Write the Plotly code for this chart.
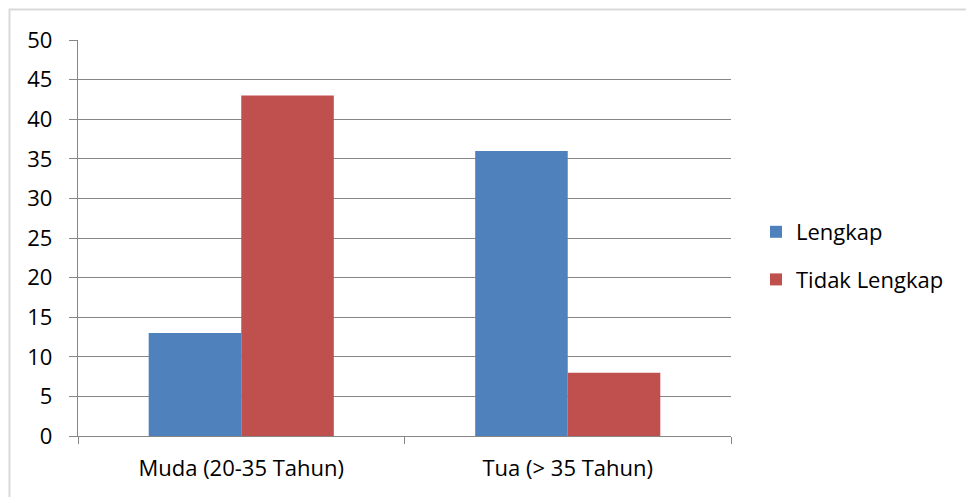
import plotly.graph_objects as go

categories = ["Muda (20-35 Tahun)", "Tua (> 35 Tahun)"]
lengkap = [13, 36]
tidak_lengkap = [43, 8]
y_ticks = [0, 5, 10, 15, 20, 25, 30, 35, 40, 45, 50]

W, H = 966, 497
L, R, T, B = 78, 235, 40, 61
pw, ph = W - L - R, H - T - B

def px_x(px):
    return (px - L) / pw

def px_y(py):
    return (H - B - py) / ph

font_family = "Open Sans, Noto Sans, sans-serif"
fs = 22

fig = go.Figure()
fig.add_trace(go.Bar(name="Lengkap", x=categories, y=lengkap, legendgroup="a",
                     marker=dict(color="#4F81BD", line=dict(width=0))))
fig.add_trace(go.Bar(name="Tidak Lengkap", x=categories, y=tidak_lengkap, legendgroup="b",
                     marker=dict(color="#C0504D", line=dict(width=0))))

fig.update_layout(
    width=W, height=H,
    margin=dict(l=L, r=R, t=T, b=B, pad=0),
    paper_bgcolor="white", plot_bgcolor="white",
    barmode="group", bargap=0.433, bargroupgap=0,
    font=dict(family=font_family, size=fs, color="#000000"),
    showlegend=True,
    legend=dict(x=px_x(756), y=px_y(211), xanchor="left", yanchor="top",
                font=dict(size=fs), traceorder="grouped", tracegroupgap=16,
                bgcolor="rgba(0,0,0,0)", itemwidth=30),
    xaxis=dict(showgrid=False, showline=True, linecolor="#868686", linewidth=1.3,
               ticks="outside", tickson="boundaries", ticklen=7, tickcolor="#868686",
               tickwidth=1.3, tickfont=dict(size=fs), zeroline=False,
               ticklabelstandoff=12),
    yaxis=dict(range=[0, 50], tickvals=y_ticks, showgrid=True, gridcolor="#868686",
               gridwidth=1.3, showline=True, linecolor="#868686", linewidth=1.3,
               ticks="outside", ticklen=8, tickcolor="#868686", tickwidth=1.3,
               tickfont=dict(size=fs), zeroline=False, ticklabelstandoff=12),
    shapes=[dict(type="rect", xref="paper", yref="paper",
                 x0=px_x(9.5), x1=px_x(975), y0=px_y(505), y1=px_y(9.5),
                 line=dict(color="#D9D9D9", width=2), layer="below")],
)

fig.write_html("out.html")
